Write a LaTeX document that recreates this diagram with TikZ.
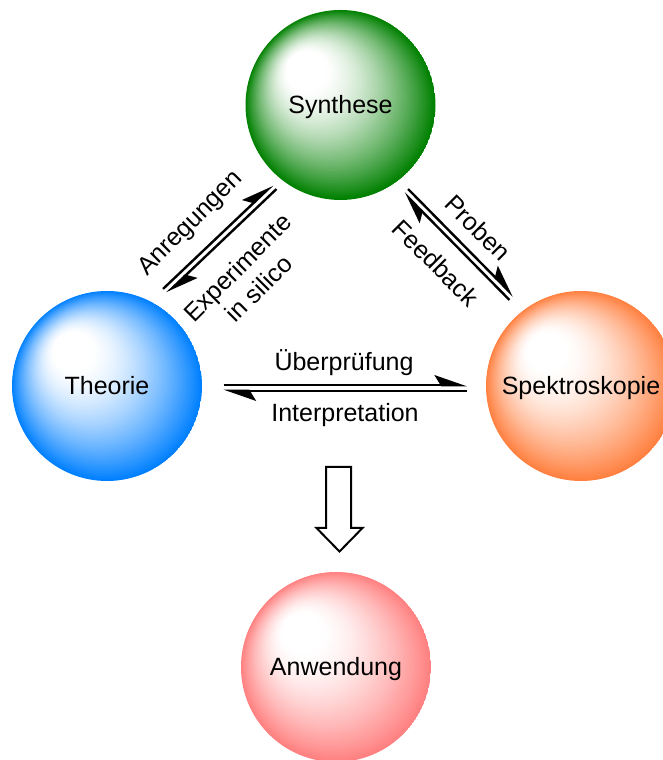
\documentclass[tikz,border=0pt]{standalone}
\usepackage{fontspec}
\setmainfont{Liberation Sans}
\usetikzlibrary{arrows.meta,calc}
\definecolor{sgreen}{RGB}{0,128,0}
\definecolor{sblue}{RGB}{0,128,255}
\definecolor{sorange}{RGB}{255,128,64}
\definecolor{spink}{RGB}{255,128,128}
\newcommand\spherefill[1]{%
  \foreach \i in {0,...,89}{%
    \pgfmathsetmacro\sfT{1-\i/90}%
    \pgfmathsetmacro\sfX{max(0.0001,(\sfT-0.2)/0.8)}%
    \pgfmathsetmacro\sfP{min(99.9,max(0,100*\sfX^1.5))}%
    \pgfmathsetmacro\sfD{0.45*95*(1-\sfT)}%
    \pgfmathsetmacro\sfR{95*\sfT}%
    \fill[#1!\sfP!white] ($(path picture bounding box.center)+(-\sfD pt,\sfD pt)$) circle[radius=\sfR pt];
  }}
\newcommand\eqpair[2]{%
  \draw[harp] ($(#1)!2.85pt!90:(#2)$) -- ($(#2)!2.85pt!-90:(#1)$);
  \draw[harp] ($(#2)!2.85pt!90:(#1)$) -- ($(#1)!2.85pt!-90:(#2)$);}
\begin{document}
\begin{tikzpicture}[x=1pt,y=1pt,
  sphere/.style={circle, minimum size=190pt, inner sep=0pt, text height=18pt, text depth=0pt,
    font=\fontsize{25}{30}\selectfont, path picture={\spherefill{#1}}},
  lbl/.style={font=\fontsize{25}{30}\selectfont, inner sep=0pt},
  harp/.style={line width=2.4pt, -{Stealth[harpoon,length=29pt,width=20pt,inset=6pt]}},
  blockarrow/.style={draw=black, line width=2pt, fill=white, line join=miter}]
\fill[white] (0,0) rectangle (663,760);
\useasboundingbox (0,0) rectangle (663,760);

\node[sphere=sgreen] (syn) at (340.5,655) {Synthese};
\node[sphere=sblue] (the) at (107,374) {Theorie};
\node[sphere=sorange] (spe) at (581,374) {Spektroskopie};
\node[sphere=spink] (anw) at (336,93) {Anwendung};

\coordinate (hA) at (223.5,372);
\coordinate (hB) at (467,372);
\coordinate (lA) at (165,469);
\coordinate (lB) at (274.5,573);
\coordinate (rA) at (406,569);
\coordinate (rB) at (511.5,462);

\eqpair{hA}{hB}
\eqpair{lA}{lB}
\eqpair{rA}{rB}

\node[lbl, rotate=45] (anr) at (191,536) {Anregungen};
\node[lbl, rotate=45, align=center] (exp) at (248,482) {Experimente\\in silico};
\node[lbl, rotate=-45] (pro) at (478,532) {Proben};
\node[lbl, rotate=-45] (fee) at (436,497) {Feedback};
\node[lbl, anchor=base] (ueb) at (344,389) {Überprüfung};
\node[lbl, anchor=base] (int) at (345,338) {Interpretation};

\draw[blockarrow] (326,293) -- (351,293) -- (351,232) -- (362.5,232) -- (339.5,208.5)
  -- (316.5,232) -- (326,232) -- cycle;
\end{tikzpicture}
\end{document}
